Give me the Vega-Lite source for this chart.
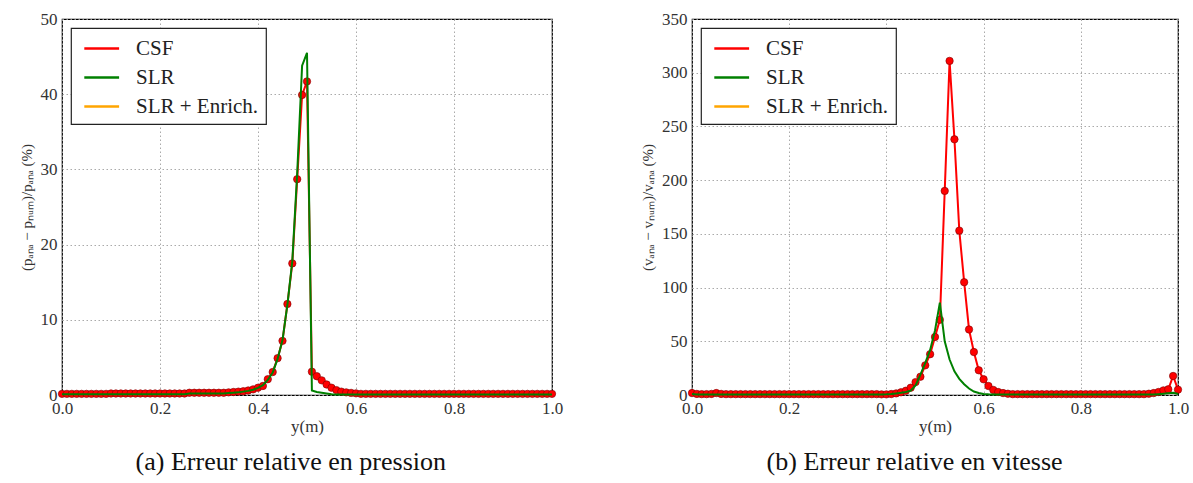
{
 "$schema": "https://vega.github.io/schema/vega-lite/v6.json",
 "background": "white",
 "padding": {"left": 18, "top": 9, "right": 10, "bottom": 2},
 "config": {
  "font": "Liberation Serif",
  "title": {"font": "Liberation Serif", "fontWeight": "normal"},
  "view": {"stroke": "#000", "strokeWidth": 1.2},
  "axis": {"domain": false, "ticks": false, "grid": true, "gridDash": [1.5, 2.5], "gridColor": "#a0a0a0", "gridWidth": 0.9,
   "labelFont": "Liberation Serif", "labelFontSize": 17, "labelColor": "#333", "labelFlush": false, "labelPadding": 5,
   "titleFont": "Liberation Serif", "titleFontWeight": "normal", "titleColor": "#333", "titleFontSize": 17},
  "axisX": {"titlePadding": 2},
  "axisY": {"titleFontSize": 15, "titlePadding": 6},
  "legend": {"orient": "top-left", "offset": 9, "fillColor": "#fff", "strokeColor": "#222", "strokeWidth": 1.2, "padding": 7,
   "symbolType": "M-0.6,0L2.3,0", "symbolSize": 576, "symbolStrokeWidth": 2.5, "labelFontSize": 21, "labelFont": "Liberation Serif",
   "labelColor": "#222", "rowPadding": 5, "labelOffset": 31, "title": null, "cornerRadius": 0}
 },
 "datasets": {
  "pression": [
   {"x":0.00,"CSF":0.15,"SLR":0.1,"SLR + Enrich.":0},{"x":0.01,"CSF":0.15,"SLR":0.1,"SLR + Enrich.":0},{"x":0.02,"CSF":0.15,"SLR":0.1,"SLR + Enrich.":0},{"x":0.03,"CSF":0.15,"SLR":0.1,"SLR + Enrich.":0},{"x":0.04,"CSF":0.15,"SLR":0.1,"SLR + Enrich.":0},
   {"x":0.05,"CSF":0.15,"SLR":0.1,"SLR + Enrich.":0},{"x":0.06,"CSF":0.15,"SLR":0.1,"SLR + Enrich.":0},{"x":0.07,"CSF":0.15,"SLR":0.1,"SLR + Enrich.":0},{"x":0.08,"CSF":0.15,"SLR":0.1,"SLR + Enrich.":0},{"x":0.09,"CSF":0.15,"SLR":0.1,"SLR + Enrich.":0},
   {"x":0.10,"CSF":0.2,"SLR":0.1,"SLR + Enrich.":0},{"x":0.11,"CSF":0.2,"SLR":0.1,"SLR + Enrich.":0},{"x":0.12,"CSF":0.2,"SLR":0.1,"SLR + Enrich.":0},{"x":0.13,"CSF":0.2,"SLR":0.1,"SLR + Enrich.":0},{"x":0.14,"CSF":0.2,"SLR":0.1,"SLR + Enrich.":0},
   {"x":0.15,"CSF":0.2,"SLR":0.1,"SLR + Enrich.":0},{"x":0.16,"CSF":0.2,"SLR":0.1,"SLR + Enrich.":0},{"x":0.17,"CSF":0.2,"SLR":0.1,"SLR + Enrich.":0},{"x":0.18,"CSF":0.2,"SLR":0.1,"SLR + Enrich.":0},{"x":0.19,"CSF":0.2,"SLR":0.1,"SLR + Enrich.":0},
   {"x":0.20,"CSF":0.2,"SLR":0.1,"SLR + Enrich.":0},{"x":0.21,"CSF":0.2,"SLR":0.1,"SLR + Enrich.":0},{"x":0.22,"CSF":0.2,"SLR":0.1,"SLR + Enrich.":0},{"x":0.23,"CSF":0.2,"SLR":0.1,"SLR + Enrich.":0},{"x":0.24,"CSF":0.2,"SLR":0.1,"SLR + Enrich.":0},
   {"x":0.25,"CSF":0.2,"SLR":0.1,"SLR + Enrich.":0},{"x":0.26,"CSF":0.3,"SLR":0.2,"SLR + Enrich.":0},{"x":0.27,"CSF":0.3,"SLR":0.2,"SLR + Enrich.":0},{"x":0.28,"CSF":0.3,"SLR":0.2,"SLR + Enrich.":0},{"x":0.29,"CSF":0.3,"SLR":0.2,"SLR + Enrich.":0},
   {"x":0.30,"CSF":0.3,"SLR":0.2,"SLR + Enrich.":0},{"x":0.31,"CSF":0.3,"SLR":0.2,"SLR + Enrich.":0},{"x":0.32,"CSF":0.3,"SLR":0.2,"SLR + Enrich.":0},{"x":0.33,"CSF":0.3,"SLR":0.2,"SLR + Enrich.":0},{"x":0.34,"CSF":0.35,"SLR":0.25,"SLR + Enrich.":0},
   {"x":0.35,"CSF":0.4,"SLR":0.3,"SLR + Enrich.":0},{"x":0.36,"CSF":0.45,"SLR":0.35,"SLR + Enrich.":0},{"x":0.37,"CSF":0.5,"SLR":0.45,"SLR + Enrich.":0},{"x":0.38,"CSF":0.6,"SLR":0.55,"SLR + Enrich.":0},{"x":0.39,"CSF":0.75,"SLR":0.7,"SLR + Enrich.":0},
   {"x":0.40,"CSF":0.97,"SLR":0.95,"SLR + Enrich.":0},{"x":0.41,"CSF":1.2,"SLR":1.3,"SLR + Enrich.":0},{"x":0.42,"CSF":2.1,"SLR":2.0,"SLR + Enrich.":0},{"x":0.43,"CSF":3.05,"SLR":3.0,"SLR + Enrich.":0},{"x":0.44,"CSF":4.9,"SLR":4.8,"SLR + Enrich.":0},
   {"x":0.45,"CSF":7.2,"SLR":7.3,"SLR + Enrich.":0},{"x":0.46,"CSF":12.1,"SLR":12.0,"SLR + Enrich.":0},{"x":0.47,"CSF":17.5,"SLR":17.8,"SLR + Enrich.":0},{"x":0.48,"CSF":28.7,"SLR":29.5,"SLR + Enrich.":0},{"x":0.49,"CSF":39.9,"SLR":43.8,"SLR + Enrich.":0},
   {"x":0.50,"CSF":41.7,"SLR":45.5,"SLR + Enrich.":2.5},{"x":0.51,"CSF":3.1,"SLR":0.6,"SLR + Enrich.":0},{"x":0.52,"CSF":2.5,"SLR":0.4,"SLR + Enrich.":0},{"x":0.53,"CSF":1.95,"SLR":0.3,"SLR + Enrich.":0},{"x":0.54,"CSF":1.4,"SLR":0.2,"SLR + Enrich.":0},
   {"x":0.55,"CSF":0.97,"SLR":0.1,"SLR + Enrich.":0},{"x":0.56,"CSF":0.65,"SLR":0.05,"SLR + Enrich.":0},{"x":0.57,"CSF":0.45,"SLR":0.05,"SLR + Enrich.":0},{"x":0.58,"CSF":0.35,"SLR":0.05,"SLR + Enrich.":0},{"x":0.59,"CSF":0.28,"SLR":0.05,"SLR + Enrich.":0},
   {"x":0.60,"CSF":0.22,"SLR":0.05,"SLR + Enrich.":0},{"x":0.61,"CSF":0.15,"SLR":0.05,"SLR + Enrich.":0},{"x":0.62,"CSF":0.15,"SLR":0.05,"SLR + Enrich.":0},{"x":0.63,"CSF":0.15,"SLR":0.05,"SLR + Enrich.":0},{"x":0.64,"CSF":0.15,"SLR":0.05,"SLR + Enrich.":0},
   {"x":0.65,"CSF":0.15,"SLR":0.05,"SLR + Enrich.":0},{"x":0.66,"CSF":0.15,"SLR":0.05,"SLR + Enrich.":0},{"x":0.67,"CSF":0.15,"SLR":0.05,"SLR + Enrich.":0},{"x":0.68,"CSF":0.15,"SLR":0.05,"SLR + Enrich.":0},{"x":0.69,"CSF":0.15,"SLR":0.05,"SLR + Enrich.":0},
   {"x":0.70,"CSF":0.15,"SLR":0.05,"SLR + Enrich.":0},{"x":0.71,"CSF":0.15,"SLR":0.05,"SLR + Enrich.":0},{"x":0.72,"CSF":0.15,"SLR":0.05,"SLR + Enrich.":0},{"x":0.73,"CSF":0.15,"SLR":0.05,"SLR + Enrich.":0},{"x":0.74,"CSF":0.15,"SLR":0.05,"SLR + Enrich.":0},
   {"x":0.75,"CSF":0.15,"SLR":0.05,"SLR + Enrich.":0},{"x":0.76,"CSF":0.15,"SLR":0.05,"SLR + Enrich.":0},{"x":0.77,"CSF":0.15,"SLR":0.05,"SLR + Enrich.":0},{"x":0.78,"CSF":0.15,"SLR":0.05,"SLR + Enrich.":0},{"x":0.79,"CSF":0.15,"SLR":0.05,"SLR + Enrich.":0},
   {"x":0.80,"CSF":0.15,"SLR":0.05,"SLR + Enrich.":0},{"x":0.81,"CSF":0.15,"SLR":0.05,"SLR + Enrich.":0},{"x":0.82,"CSF":0.15,"SLR":0.05,"SLR + Enrich.":0},{"x":0.83,"CSF":0.15,"SLR":0.05,"SLR + Enrich.":0},{"x":0.84,"CSF":0.15,"SLR":0.05,"SLR + Enrich.":0},
   {"x":0.85,"CSF":0.15,"SLR":0.05,"SLR + Enrich.":0},{"x":0.86,"CSF":0.15,"SLR":0.05,"SLR + Enrich.":0},{"x":0.87,"CSF":0.15,"SLR":0.05,"SLR + Enrich.":0},{"x":0.88,"CSF":0.15,"SLR":0.05,"SLR + Enrich.":0},{"x":0.89,"CSF":0.15,"SLR":0.05,"SLR + Enrich.":0},
   {"x":0.90,"CSF":0.15,"SLR":0.05,"SLR + Enrich.":0},{"x":0.91,"CSF":0.15,"SLR":0.05,"SLR + Enrich.":0},{"x":0.92,"CSF":0.15,"SLR":0.05,"SLR + Enrich.":0},{"x":0.93,"CSF":0.15,"SLR":0.05,"SLR + Enrich.":0},{"x":0.94,"CSF":0.15,"SLR":0.05,"SLR + Enrich.":0},
   {"x":0.95,"CSF":0.15,"SLR":0.05,"SLR + Enrich.":0},{"x":0.96,"CSF":0.15,"SLR":0.05,"SLR + Enrich.":0},{"x":0.97,"CSF":0.15,"SLR":0.05,"SLR + Enrich.":0},{"x":0.98,"CSF":0.15,"SLR":0.05,"SLR + Enrich.":0},{"x":0.99,"CSF":0.15,"SLR":0.05,"SLR + Enrich.":0},
   {"x":1.00,"CSF":0.15,"SLR":0.05,"SLR + Enrich.":0}
  ],
  "vitesse": [
   {"x":0.00,"CSF":1.8,"SLR":1.0,"SLR + Enrich.":0},{"x":0.01,"CSF":1.0,"SLR":0.5,"SLR + Enrich.":0},{"x":0.02,"CSF":0.8,"SLR":0.5,"SLR + Enrich.":0},{"x":0.03,"CSF":0.8,"SLR":0.5,"SLR + Enrich.":0},{"x":0.04,"CSF":1.0,"SLR":0.5,"SLR + Enrich.":0},
   {"x":0.05,"CSF":1.8,"SLR":0.5,"SLR + Enrich.":0},{"x":0.06,"CSF":1.0,"SLR":0.5,"SLR + Enrich.":0},{"x":0.07,"CSF":0.8,"SLR":0.5,"SLR + Enrich.":0},{"x":0.08,"CSF":0.8,"SLR":0.5,"SLR + Enrich.":0},{"x":0.09,"CSF":0.8,"SLR":0.5,"SLR + Enrich.":0},
   {"x":0.10,"CSF":0.8,"SLR":0.5,"SLR + Enrich.":0},{"x":0.11,"CSF":0.8,"SLR":0.5,"SLR + Enrich.":0},{"x":0.12,"CSF":0.8,"SLR":0.5,"SLR + Enrich.":0},{"x":0.13,"CSF":0.8,"SLR":0.5,"SLR + Enrich.":0},{"x":0.14,"CSF":0.8,"SLR":0.5,"SLR + Enrich.":0},
   {"x":0.15,"CSF":0.8,"SLR":0.5,"SLR + Enrich.":0},{"x":0.16,"CSF":0.8,"SLR":0.5,"SLR + Enrich.":0},{"x":0.17,"CSF":0.8,"SLR":0.5,"SLR + Enrich.":0},{"x":0.18,"CSF":0.8,"SLR":0.5,"SLR + Enrich.":0},{"x":0.19,"CSF":0.8,"SLR":0.5,"SLR + Enrich.":0},
   {"x":0.20,"CSF":0.8,"SLR":0.5,"SLR + Enrich.":0},{"x":0.21,"CSF":0.8,"SLR":0.5,"SLR + Enrich.":0},{"x":0.22,"CSF":0.8,"SLR":0.5,"SLR + Enrich.":0},{"x":0.23,"CSF":0.8,"SLR":0.5,"SLR + Enrich.":0},{"x":0.24,"CSF":0.8,"SLR":0.5,"SLR + Enrich.":0},
   {"x":0.25,"CSF":0.8,"SLR":0.5,"SLR + Enrich.":0},{"x":0.26,"CSF":0.8,"SLR":0.5,"SLR + Enrich.":0},{"x":0.27,"CSF":0.8,"SLR":0.5,"SLR + Enrich.":0},{"x":0.28,"CSF":0.8,"SLR":0.5,"SLR + Enrich.":0},{"x":0.29,"CSF":0.8,"SLR":0.5,"SLR + Enrich.":0},
   {"x":0.30,"CSF":0.8,"SLR":0.5,"SLR + Enrich.":0},{"x":0.31,"CSF":0.8,"SLR":0.5,"SLR + Enrich.":0},{"x":0.32,"CSF":0.8,"SLR":0.5,"SLR + Enrich.":0},{"x":0.33,"CSF":0.8,"SLR":0.5,"SLR + Enrich.":0},{"x":0.34,"CSF":0.8,"SLR":0.5,"SLR + Enrich.":0},
   {"x":0.35,"CSF":0.8,"SLR":0.5,"SLR + Enrich.":0},{"x":0.36,"CSF":0.8,"SLR":0.5,"SLR + Enrich.":0},{"x":0.37,"CSF":0.8,"SLR":0.5,"SLR + Enrich.":0},{"x":0.38,"CSF":0.8,"SLR":0.5,"SLR + Enrich.":0},{"x":0.39,"CSF":0.6,"SLR":0.5,"SLR + Enrich.":0},
   {"x":0.40,"CSF":0.6,"SLR":0.6,"SLR + Enrich.":0},{"x":0.41,"CSF":0.9,"SLR":0.9,"SLR + Enrich.":0},{"x":0.42,"CSF":1.5,"SLR":1.4,"SLR + Enrich.":0},{"x":0.43,"CSF":2.5,"SLR":2.0,"SLR + Enrich.":0},{"x":0.44,"CSF":4.0,"SLR":2.8,"SLR + Enrich.":0},
   {"x":0.45,"CSF":6.8,"SLR":4.0,"SLR + Enrich.":0},{"x":0.46,"CSF":12,"SLR":9,"SLR + Enrich.":0},{"x":0.47,"CSF":17,"SLR":19,"SLR + Enrich.":0},{"x":0.48,"CSF":27.6,"SLR":30,"SLR + Enrich.":0},{"x":0.49,"CSF":38,"SLR":42,"SLR + Enrich.":0},
   {"x":0.50,"CSF":54,"SLR":60,"SLR + Enrich.":0},{"x":0.51,"CSF":70,"SLR":86,"SLR + Enrich.":0},{"x":0.52,"CSF":190,"SLR":50,"SLR + Enrich.":0},{"x":0.53,"CSF":311,"SLR":33,"SLR + Enrich.":0},{"x":0.54,"CSF":238,"SLR":22,"SLR + Enrich.":0},
   {"x":0.55,"CSF":153,"SLR":15,"SLR + Enrich.":0},{"x":0.56,"CSF":105,"SLR":10,"SLR + Enrich.":0},{"x":0.57,"CSF":61,"SLR":6,"SLR + Enrich.":0},{"x":0.58,"CSF":40,"SLR":3.2,"SLR + Enrich.":0},{"x":0.59,"CSF":23,"SLR":1.8,"SLR + Enrich.":0},
   {"x":0.60,"CSF":14.6,"SLR":1.0,"SLR + Enrich.":0},{"x":0.61,"CSF":8.4,"SLR":0.6,"SLR + Enrich.":0},{"x":0.62,"CSF":4.7,"SLR":0.5,"SLR + Enrich.":0},{"x":0.63,"CSF":2.8,"SLR":0.5,"SLR + Enrich.":0},{"x":0.64,"CSF":1.8,"SLR":0.5,"SLR + Enrich.":0},
   {"x":0.65,"CSF":1.2,"SLR":0.5,"SLR + Enrich.":0},{"x":0.66,"CSF":0.8,"SLR":0.5,"SLR + Enrich.":0},{"x":0.67,"CSF":0.8,"SLR":0.5,"SLR + Enrich.":0},{"x":0.68,"CSF":0.8,"SLR":0.5,"SLR + Enrich.":0},{"x":0.69,"CSF":0.8,"SLR":0.5,"SLR + Enrich.":0},
   {"x":0.70,"CSF":0.8,"SLR":0.5,"SLR + Enrich.":0},{"x":0.71,"CSF":0.8,"SLR":0.5,"SLR + Enrich.":0},{"x":0.72,"CSF":0.8,"SLR":0.5,"SLR + Enrich.":0},{"x":0.73,"CSF":0.8,"SLR":0.5,"SLR + Enrich.":0},{"x":0.74,"CSF":0.8,"SLR":0.5,"SLR + Enrich.":0},
   {"x":0.75,"CSF":0.8,"SLR":0.5,"SLR + Enrich.":0},{"x":0.76,"CSF":0.8,"SLR":0.5,"SLR + Enrich.":0},{"x":0.77,"CSF":0.8,"SLR":0.5,"SLR + Enrich.":0},{"x":0.78,"CSF":0.8,"SLR":0.5,"SLR + Enrich.":0},{"x":0.79,"CSF":0.8,"SLR":0.5,"SLR + Enrich.":0},
   {"x":0.80,"CSF":0.8,"SLR":0.5,"SLR + Enrich.":0},{"x":0.81,"CSF":0.8,"SLR":0.5,"SLR + Enrich.":0},{"x":0.82,"CSF":0.8,"SLR":0.5,"SLR + Enrich.":0},{"x":0.83,"CSF":0.8,"SLR":0.5,"SLR + Enrich.":0},{"x":0.84,"CSF":0.8,"SLR":0.5,"SLR + Enrich.":0},
   {"x":0.85,"CSF":0.8,"SLR":0.5,"SLR + Enrich.":0},{"x":0.86,"CSF":0.8,"SLR":0.5,"SLR + Enrich.":0},{"x":0.87,"CSF":0.8,"SLR":0.5,"SLR + Enrich.":0},{"x":0.88,"CSF":0.8,"SLR":0.5,"SLR + Enrich.":0},{"x":0.89,"CSF":0.8,"SLR":0.5,"SLR + Enrich.":0},
   {"x":0.90,"CSF":0.8,"SLR":0.5,"SLR + Enrich.":0},{"x":0.91,"CSF":0.8,"SLR":0.5,"SLR + Enrich.":0},{"x":0.92,"CSF":0.8,"SLR":0.5,"SLR + Enrich.":0},{"x":0.93,"CSF":0.8,"SLR":0.5,"SLR + Enrich.":0},{"x":0.94,"CSF":1.2,"SLR":0.5,"SLR + Enrich.":0},
   {"x":0.95,"CSF":1.8,"SLR":0.5,"SLR + Enrich.":0},{"x":0.96,"CSF":2.8,"SLR":0.8,"SLR + Enrich.":0},{"x":0.97,"CSF":4.3,"SLR":1.2,"SLR + Enrich.":0},{"x":0.98,"CSF":5.3,"SLR":1.6,"SLR + Enrich.":0},{"x":0.99,"CSF":17.7,"SLR":2.0,"SLR + Enrich.":0},
   {"x":1.00,"CSF":5,"SLR":1.0,"SLR + Enrich.":0}
  ]
 },
 "hconcat": [
  {
   "width": 490, "height": 376,
   "title": {"text": "(a) Erreur relative en pression", "orient": "bottom", "frame": "bounds", "anchor": "middle", "fontSize": 26, "font": "Liberation Serif", "fontWeight": "normal", "color": "#111", "offset": 15},
   "data": {"name": "pression"},
   "transform": [{"fold": ["CSF", "SLR", "SLR + Enrich."], "as": ["serie", "val"]}],
   "encoding": {
    "x": {"field": "x", "type": "quantitative", "scale": {"domain": [0, 1], "nice": false}, "axis": {"values": [0, 0.2, 0.4, 0.6, 0.8, 1], "format": ".1f", "title": "y(m)"}},
    "y": {"field": "val", "type": "quantitative", "scale": {"domain": [0, 50], "nice": false}, "axis": {"values": [0, 10, 20, 30, 40, 50], "title": "(pₐₙₐ − pₙᵤₘ)/pₐₙₐ (%)"}}
   },
   "layer": [
    {"transform": [{"filter": "datum.serie === 'CSF'"}], "mark": {"type": "line", "strokeWidth": 2},
     "encoding": {"color": {"field": "serie", "type": "nominal", "scale": {"domain": ["CSF", "SLR", "SLR + Enrich."], "range": ["#ff0000", "#008000", "#ffa500"]}, "legend": {"labelFont": "Liberation Serif", "labelFontSize": 21}}}},
    {"transform": [{"filter": "datum.serie === 'CSF'"}], "mark": {"type": "point", "filled": true, "size": 55, "color": "#ff0000", "stroke": "#7a0000", "strokeWidth": 0.6, "opacity": 1}},
    {"transform": [{"filter": "datum.serie !== 'CSF'"}], "mark": {"type": "line", "strokeWidth": 2},
     "encoding": {"color": {"field": "serie", "type": "nominal", "scale": {"domain": ["CSF", "SLR", "SLR + Enrich."], "range": ["#ff0000", "#008000", "#ffa500"]}, "legend": {"labelFont": "Liberation Serif", "labelFontSize": 21}}}}
   ]
  },
  {
   "width": 486, "height": 376,
   "title": {"text": "(b) Erreur relative en vitesse", "orient": "bottom", "frame": "bounds", "anchor": "middle", "fontSize": 26, "font": "Liberation Serif", "fontWeight": "normal", "color": "#111", "offset": 15},
   "data": {"name": "vitesse"},
   "transform": [{"fold": ["CSF", "SLR", "SLR + Enrich."], "as": ["serie", "val"]}],
   "encoding": {
    "x": {"field": "x", "type": "quantitative", "scale": {"domain": [0, 1], "nice": false}, "axis": {"values": [0, 0.2, 0.4, 0.6, 0.8, 1], "format": ".1f", "title": "y(m)"}},
    "y": {"field": "val", "type": "quantitative", "scale": {"domain": [0, 350], "nice": false}, "axis": {"values": [0, 50, 100, 150, 200, 250, 300, 350], "title": "(vₐₙₐ − vₙᵤₘ)/vₐₙₐ (%)"}}
   },
   "layer": [
    {"transform": [{"filter": "datum.serie === 'CSF'"}], "mark": {"type": "line", "strokeWidth": 2},
     "encoding": {"color": {"field": "serie", "type": "nominal", "scale": {"domain": ["CSF", "SLR", "SLR + Enrich."], "range": ["#ff0000", "#008000", "#ffa500"]}, "legend": {"labelFont": "Liberation Serif", "labelFontSize": 21}}}},
    {"transform": [{"filter": "datum.serie === 'CSF'"}], "mark": {"type": "point", "filled": true, "size": 55, "color": "#ff0000", "stroke": "#7a0000", "strokeWidth": 0.6, "opacity": 1}},
    {"transform": [{"filter": "datum.serie !== 'CSF'"}], "mark": {"type": "line", "strokeWidth": 2},
     "encoding": {"color": {"field": "serie", "type": "nominal", "scale": {"domain": ["CSF", "SLR", "SLR + Enrich."], "range": ["#ff0000", "#008000", "#ffa500"]}, "legend": {"labelFont": "Liberation Serif", "labelFontSize": 21}}}}
   ]
  }
 ],
 "spacing": 75,
 "resolve": {"scale": {"color": "independent", "y": "independent", "x": "independent"}, "legend": {"color": "independent"}}
}
